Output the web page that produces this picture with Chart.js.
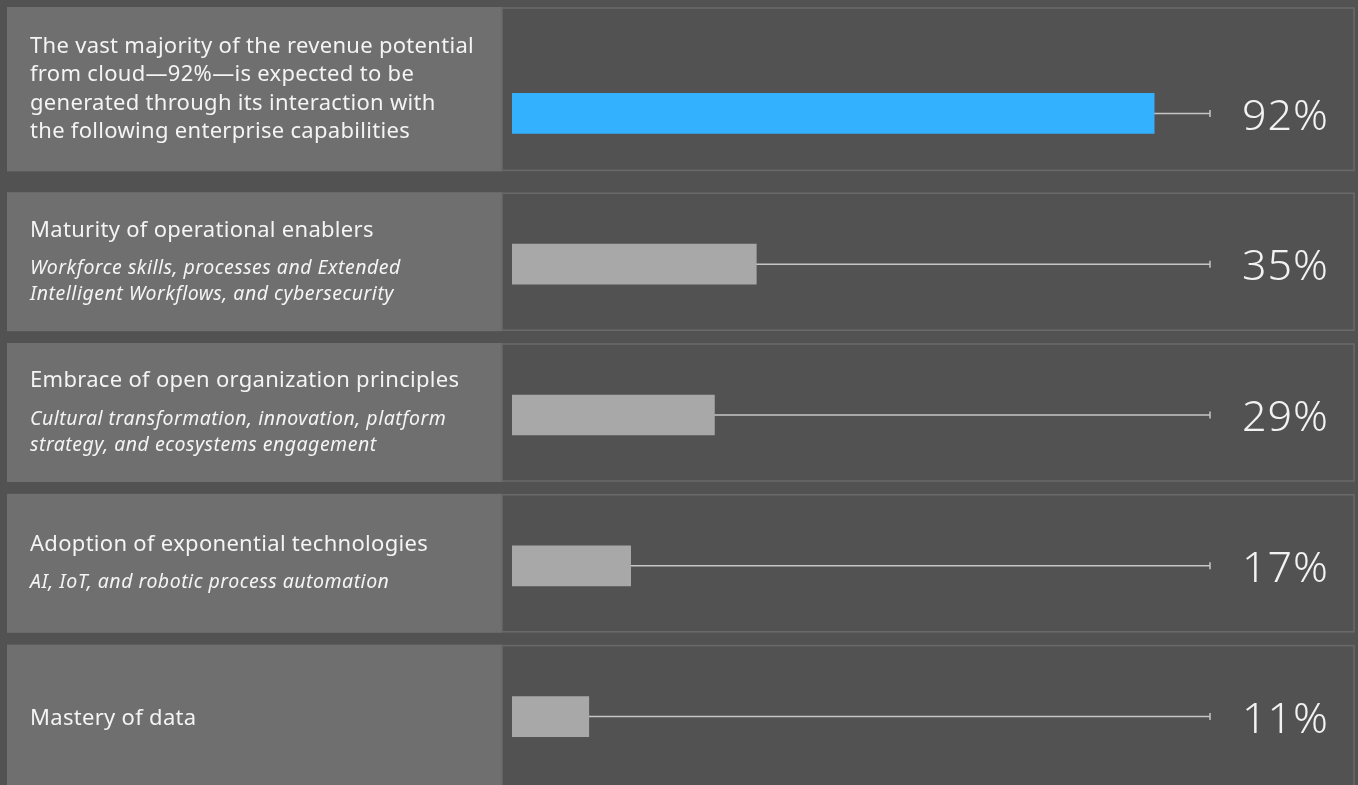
<!DOCTYPE html>
<html>
<head>
<meta charset="utf-8">
<script src="https://cdn.jsdelivr.net/npm/chart.js@4"></script>
<style>
  html, body { margin: 0; padding: 0; background: #525252; overflow: hidden; }
  #wrap { width: 1358px; height: 792px; }
</style>
</head>
<body>
<div id="wrap"><canvas id="grafico" width="1358" height="792"></canvas></div>
<script>
// dados
const titulos = [
  ["The vast majority of the revenue potential", "from cloud\u201492%\u2014is expected to be", "generated through its interaction with", "the following enterprise capabilities"],
  ["Maturity of operational enablers"],
  ["Embrace of open organization principles"],
  ["Adoption of exponential technologies"],
  ["Mastery of data"]
];
const subtitulos = [
  [],
  ["Workforce skills, processes and Extended", "Intelligent Workflows, and cybersecurity"],
  ["Cultural transformation, innovation, platform", "strategy, and ecosystems engagement"],
  ["AI, IoT, and robotic process automation"],
  []
];
const valores = [92, 35, 29, 17, 11];
const categorias = titulos.map(t => t.join(" "));
const coresBarras = ["#33b1ff", "#a8a8a8", "#a8a8a8", "#a8a8a8", "#a8a8a8"];

const fonte = '"Noto Sans", "DejaVu Sans", sans-serif';

// faixas de cada linha (painel esquerdo + direito)
function faixa(chart, i) {
  const y = chart.scales.y.getPixelForValue(i);
  const top = i === 0 ? 7 : y - 72;
  const bottom = i === valores.length - 1 ? chart.height : (i === 0 ? y + 58 : y + 67);
  return { y, top, bottom };
}

const pluginPainel = {
  id: "painel",
  beforeDatasetsDraw(chart) {
    const ctx = chart.ctx;
    const x = chart.scales.x;
    ctx.save();
    valores.forEach((v, i) => {
      const f = faixa(chart, i);
      // painel esquerdo
      ctx.fillStyle = "#6f6f6f";
      ctx.fillRect(7, f.top, 495, f.bottom - f.top);
      // painel direito com borda
      ctx.strokeStyle = "#6a6a6a";
      ctx.lineWidth = 1.5;
      ctx.strokeRect(502, f.top + 1, 852, f.bottom - f.top - 2);
      // linha de trilha ate 100%
      const x0 = x.getPixelForValue(0);
      const x1 = x.getPixelForValue(100);
      ctx.strokeStyle = "#c6c6c6";
      ctx.lineWidth = 1.5;
      ctx.beginPath();
      ctx.moveTo(x0, f.y);
      ctx.lineTo(x1, f.y);
      ctx.moveTo(x1, f.y - 3.5);
      ctx.lineTo(x1, f.y + 3.5);
      ctx.stroke();
    });
    ctx.restore();
  },
  afterDatasetsDraw(chart) {
    const ctx = chart.ctx;
    ctx.save();
    valores.forEach((v, i) => {
      const f = faixa(chart, i);
      // textos do painel esquerdo
      const tit = titulos[i];
      const sub = subtitulos[i];
      const alturaTit = 28.5;
      const gapSub = sub.length ? 38 - alturaTit / 2 - 13 : 0;
      const alturaSub = 26;
      const total = tit.length * alturaTit + gapSub + sub.length * alturaSub;
      let cy = (f.top + f.bottom) / 2 - total / 2;
      ctx.fillStyle = "#f4f4f4";
      ctx.textAlign = "left";
      ctx.textBaseline = "middle";
      ctx.font = "22px " + fonte;
      ctx.letterSpacing = "0.3px";
      tit.forEach(l => {
        ctx.fillText(l, 30, cy + alturaTit / 2);
        cy += alturaTit;
      });
      cy += gapSub;
      ctx.font = "italic 19.5px " + fonte;
      ctx.letterSpacing = "0.5px";
      sub.forEach(l => {
        ctx.fillText(l, 30, cy + alturaSub / 2);
        cy += alturaSub;
      });
      // valor
      ctx.letterSpacing = "1px";
      ctx.font = "300 43px " + fonte;
      ctx.textAlign = "right";
      ctx.fillStyle = "#f2f2f2";
      ctx.fillText(v + "%", 1329, f.y + 4);
    });
    ctx.restore();
  }
};

const ctx = document.getElementById("grafico").getContext("2d");
new Chart(ctx, {
  type: "bar",
  data: {
    labels: categorias,
    datasets: [{
      data: valores,
      backgroundColor: coresBarras,
      borderWidth: 0,
      barThickness: 40
    }]
  },
  options: {
    indexAxis: "y",
    responsive: false,
    animation: false,
    devicePixelRatio: 1,
    layout: { padding: { left: 512, right: 148, top: 38, bottom: 0 } },
    plugins: { legend: { display: false }, tooltip: { enabled: false } },
    scales: {
      x: { display: false, min: 0, max: 100 },
      y: { display: false }
    }
  },
  plugins: [pluginPainel]
});
</script>
</body>
</html>
